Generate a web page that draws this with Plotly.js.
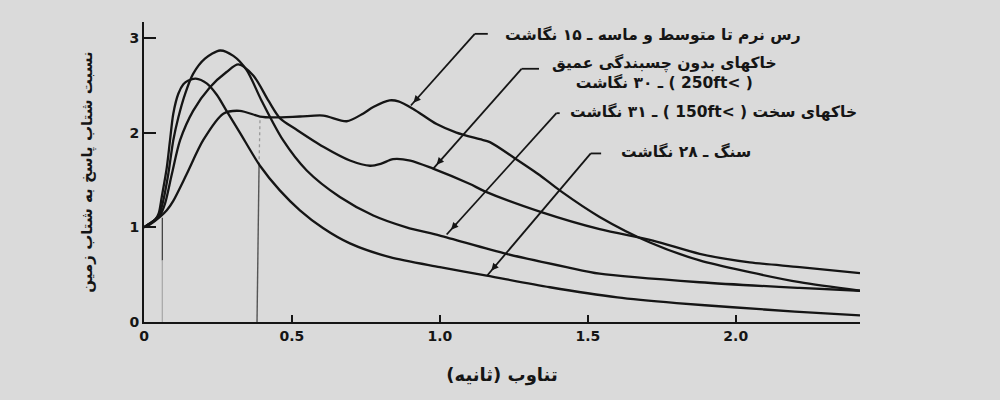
<!DOCTYPE html>
<html>
<head>
<meta charset="utf-8">
<script src="https://cdn.plot.ly/plotly-3.0.1.min.js"></script>
<style>html,body{margin:0;padding:0;background:#dadada;}</style>
</head>
<body>
<div id="chart" style="width:1000px;height:400px;"></div>
<script>
// Period (s) and spectral ratio values
var periodRock  = [0, 0.02, 0.04, 0.05, 0.06, 0.077, 0.088, 0.099, 0.116, 0.133, 0.15, 0.175, 0.212, 0.246, 0.279, 0.324, 0.392, 0.459, 0.527, 0.606, 0.696, 0.831, 1.0, 1.158, 1.372, 1.6, 1.8, 1.99, 2.2, 2.42];
var ratioRock   = [1.0, 1.04, 1.09, 1.15, 1.32, 1.63, 1.92, 2.2, 2.41, 2.51, 2.55, 2.57, 2.52, 2.40, 2.23, 2.0, 1.65, 1.39, 1.18, 0.99, 0.83, 0.684, 0.579, 0.49, 0.367, 0.26, 0.2, 0.156, 0.11, 0.069];

var periodStiff = [0, 0.02, 0.04, 0.052, 0.065, 0.082, 0.099, 0.116, 0.139, 0.166, 0.206, 0.257, 0.302, 0.347, 0.397, 0.47, 0.55, 0.662, 0.775, 0.887, 1.0, 1.225, 1.428, 1.54, 1.878, 2.216, 2.42];
var ratioStiff  = [1.0, 1.04, 1.09, 1.14, 1.28, 1.56, 1.92, 2.16, 2.41, 2.62, 2.78, 2.867, 2.81, 2.66, 2.34, 1.92, 1.60, 1.32, 1.125, 1.0, 0.913, 0.72, 0.58, 0.51, 0.42, 0.36, 0.33];

var periodDeep  = [0, 0.02, 0.04, 0.055, 0.071, 0.094, 0.122, 0.166, 0.223, 0.279, 0.319, 0.37, 0.42, 0.46, 0.516, 0.606, 0.696, 0.764, 0.8, 0.842, 0.9, 0.977, 1.10, 1.152, 1.343, 1.54, 1.72, 1.878, 2.047, 2.216, 2.42];
var ratioDeep   = [1.0, 1.04, 1.08, 1.13, 1.25, 1.56, 1.92, 2.23, 2.48, 2.64, 2.72, 2.6, 2.34, 2.15, 2.03, 1.85, 1.705, 1.65, 1.67, 1.72, 1.705, 1.62, 1.46, 1.38, 1.16, 0.98, 0.86, 0.72, 0.63, 0.58, 0.515];

var periodSoft  = [0, 0.02, 0.054, 0.077, 0.099, 0.144, 0.2, 0.268, 0.324, 0.392, 0.437, 0.527, 0.606, 0.685, 0.74, 0.775, 0.83, 0.86, 0.91, 0.989, 1.056, 1.135, 1.169, 1.253, 1.338, 1.405, 1.54, 1.71, 1.878, 2.047, 2.216, 2.42];
var ratioSoft   = [1.0, 1.03, 1.11, 1.18, 1.28, 1.56, 1.92, 2.2, 2.23, 2.17, 2.16, 2.17, 2.18, 2.12, 2.2, 2.27, 2.34, 2.33, 2.25, 2.09, 2.0, 1.93, 1.90, 1.73, 1.55, 1.39, 1.11, 0.84, 0.65, 0.526, 0.42, 0.33];

// thin vertical guide marks in the scan
var guideA_period = [0.062, 0.062];
var guideA_dark   = [1.1, 0.65];
var guideA_light  = [0.65, 0];
var guideB_period = [0.392, 0.389];
var guideB_upper  = [2.13, 1.68];
var guideB_lower  = [1.68, 0];
var guideB_lowerPeriod = [0.389, 0.382];

var xTickVals = [0, 0.5, 1.0, 1.5, 2.0];
var xTickText = ["0", "0.5", "1.0", "1.5", "2.0"];
var yTickVals = [0, 1, 2, 3];
var yTickText = ["0", "1", "2", "3"];

var RLE = "\u202B", PDF = "\u202C";
var labelSoft  = "رس نرم تا متوسط و ماسه ـ ۱۵ نگاشت";
var labelDeep1 = "خاکهای بدون چسبندگی عمیق";
var labelDeep2 = "( >250ft ) ـ ۳۰ نگاشت";
var labelStiff = "خاکهای سخت ( >150ft ) ـ ۳۱ نگاشت";
var labelRock  = "سنگ ـ ۲۸ نگاشت";
var xTitle = "تناوب (ثانیه)";
var yTitle = "نسبت شتاب پاسخ به شتاب زمین";

var ink = '#151515';
var FONT = 'DejaVu Sans, sans-serif';
function curve(x, y) {
  return {x: x, y: y, mode: 'lines', type: 'scatter', hoverinfo: 'skip',
          line: {color: ink, width: 2.3, shape: 'spline', smoothing: 0.8}, showlegend: false};
}
var traces = [
  {x: guideA_period, y: guideA_dark, mode: 'lines', line: {color: '#444', width: 1.3}, showlegend: false},
  {x: guideA_period, y: guideA_light, mode: 'lines', line: {color: '#aaa', width: 1.3}, showlegend: false},
  {x: guideB_period, y: guideB_upper, mode: 'lines', line: {color: '#999', width: 1.3, dash: 'dot'}, showlegend: false},
  {x: guideB_lowerPeriod, y: guideB_lower, mode: 'lines', line: {color: '#555', width: 1.4}, showlegend: false},
  curve(periodRock, ratioRock),
  curve(periodStiff, ratioStiff),
  curve(periodDeep, ratioDeep),
  curve(periodSoft, ratioSoft)
];

// leader lines: [tipPeriod, tipRatio, cornerPeriod, cornerRatio, endPeriod]
var leaders = [
  [0.902, 2.286, 1.118, 3.043, 1.162],
  [0.977, 1.618, 1.276, 2.674, 1.335],
  [1.023, 0.924, 1.394, 2.205, 1.405],
  [1.16, 0.491, 1.51, 1.78, 1.545]
];
var shapes = [], anns = [];
leaders.forEach(function (L) {
  shapes.push({type: 'line', xref: 'x', yref: 'y', x0: L[0], y0: L[1], x1: L[2], y1: L[3], line: {color: ink, width: 1.8}});
  shapes.push({type: 'line', xref: 'x', yref: 'y', x0: L[2], y0: L[3], x1: L[4], y1: L[3], line: {color: ink, width: 1.8}});
  var f = 0.1;
  anns.push({x: L[0] + (L[2] - L[0]) * 0.04, y: L[1] + (L[3] - L[1]) * 0.04,
             ax: L[0] + (L[2] - L[0]) * f, ay: L[1] + (L[3] - L[1]) * f,
             xref: 'x', yref: 'y', axref: 'x', ayref: 'y', text: '', showarrow: true,
             arrowhead: 2, arrowsize: 0.9, arrowwidth: 1.6, arrowcolor: ink, standoff: 0, startstandoff: 0});
});
function label(txt, x, y, anchor) {
  return {x: x, y: y, xref: 'x', yref: 'y', text: txt, showarrow: false,
          xanchor: anchor, yanchor: 'middle', align: 'center',
          font: {family: FONT, size: 15.5, color: ink, weight: 'bold'}};
}
anns.push(label(RLE + labelSoft + PDF, 1.213, 3.036, 'left'));
anns.push(label(RLE + labelDeep1 + PDF + '<br>' + RLE + labelDeep2 + PDF, 1.76, 2.63, 'center'));
anns.push(label(RLE + labelStiff + PDF, 1.432, 2.223, 'left'));
anns.push(label(RLE + labelRock + PDF, 1.605, 1.80, 'left'));

var layout = {
  width: 1000, height: 400,
  margin: {l: 144, r: 140, t: 22, b: 78},
  paper_bgcolor: '#dadada', plot_bgcolor: '#dadada',
  showlegend: false,
  xaxis: {range: [0, 2.42], showline: true, linecolor: ink, linewidth: 2,
          ticks: 'inside', ticklen: 7, tickwidth: 2, tickcolor: ink,
          tickvals: xTickVals, ticktext: xTickText, showgrid: false, zeroline: false,
          tickfont: {family: FONT, size: 14, color: ink, weight: 'bold'},
          title: {text: RLE + xTitle + PDF, font: {family: FONT, size: 18, color: ink, weight: 'bold'}, standoff: 26}},
  yaxis: {range: [0, 3.168], showline: true, linecolor: ink, linewidth: 2,
          ticks: 'inside', ticklen: 12, tickwidth: 2, tickcolor: ink,
          tickvals: yTickVals, ticktext: yTickText, showgrid: false, zeroline: false,
          tickfont: {family: FONT, size: 14, color: ink, weight: 'bold'},
          title: {text: yTitle, font: {family: FONT, size: 15, color: ink, weight: 'bold'}, standoff: 33}},
  shapes: shapes,
  annotations: anns
};

Plotly.newPlot('chart', traces, layout, {staticPlot: true, displayModeBar: false});
</script>
</body>
</html>
